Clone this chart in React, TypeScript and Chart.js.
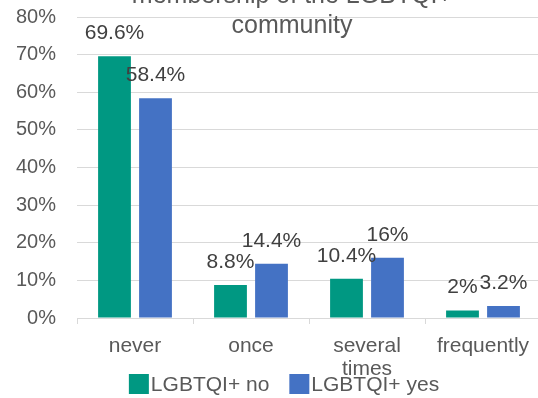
import React, { useEffect, useRef } from "react";
import { Chart, registerables } from "chart.js";

Chart.register(...registerables);

const categories: (string | string[])[] = ["never", "once", ["several", "times"], "frequently"];
const seriesNames = ["LGBTQI+ no", "LGBTQI+ yes"];
const valuesNo = [69.6, 8.8, 10.4, 2];
const valuesYes = [58.4, 14.4, 16, 3.2];
const valueLabelsNo = ["69.6%", "8.8%", "10.4%", "2%"];
const valueLabelsYes = ["58.4%", "14.4%", "16%", "3.2%"];
const titleLines = ["membership of the LGBTQI+", "community"];
const seriesColors = ["#009882", "#4472C4"];

const FONT = "'Liberation Sans', Arial, sans-serif";

const labelsPlugin = {
  id: "valueLabels",
  afterDatasetsDraw(chart: any) {
    const ctx = chart.ctx;
    const all = [valueLabelsNo, valueLabelsYes];
    ctx.save();
    ctx.font = `21px ${FONT}`;
    ctx.fillStyle = "#404040";
    ctx.textAlign = "center";
    ctx.textBaseline = "middle";
    all.forEach((labels, di) => {
      const meta = chart.getDatasetMeta(di);
      meta.data.forEach((el: any, i: number) => {
        ctx.fillText(labels[i], el.x, el.y - 23);
      });
    });
    ctx.restore();
  },
};

const titlePlugin = {
  id: "cutTitle",
  afterDraw(chart: any) {
    const ctx = chart.ctx;
    ctx.save();
    ctx.font = `25px ${FONT}`;
    ctx.fillStyle = "#595959";
    ctx.textAlign = "center";
    ctx.textBaseline = "alphabetic";
    titleLines.forEach((t, i) => ctx.fillText(t, 292, 3 + i * 30));
    ctx.restore();
  },
};

const legendPlugin = {
  id: "customLegend",
  afterDraw(chart: any) {
    const ctx = chart.ctx;
    ctx.save();
    ctx.font = `21px ${FONT}`;
    const box = 20;
    const gapText = 2;
    const gapItem = 20;
    const widths = seriesNames.map((n) => ctx.measureText(n).width);
    const total = widths.reduce((a, w) => a + box + gapText + w, 0) + gapItem * (seriesNames.length - 1);
    let x = 284 - total / 2;
    const cy = 384;
    seriesNames.forEach((n, i) => {
      ctx.fillStyle = seriesColors[i];
      ctx.fillRect(x, cy - box / 2, box, box);
      ctx.fillStyle = "#595959";
      ctx.textAlign = "left";
      ctx.textBaseline = "middle";
      ctx.fillText(n, x + box + gapText, cy + 1);
      x += box + gapText + widths[i] + gapItem;
    });
    ctx.restore();
  },
};

export default function App() {
  const ref = useRef<HTMLCanvasElement | null>(null);
  useEffect(() => {
    if (!ref.current) return;
    const chart = new Chart(ref.current, {
      type: "bar",
      data: {
        labels: categories,
        datasets: [
          { label: seriesNames[0], data: valuesNo, backgroundColor: seriesColors[0] },
          { label: seriesNames[1], data: valuesYes, backgroundColor: seriesColors[1] },
        ],
      },
      options: {
        responsive: false,
        animation: false,
        devicePixelRatio: 1,
        layout: { padding: { left: 0, right: 19, top: 17, bottom: 18 } },
        datasets: { bar: { barPercentage: 0.8, categoryPercentage: 0.707 } },
        plugins: {
          legend: { display: false },
          title: { display: false },
          tooltip: { enabled: false },
        },
        scales: {
          x: {
            grid: { drawOnChartArea: false, drawTicks: true, tickLength: 6, color: "#d9d9d9" },
            border: { color: "#d9d9d9", width: 1 },
            ticks: {
              color: "#595959",
              font: { family: FONT, size: 21, lineHeight: 1.1 },
              padding: 11,
              maxRotation: 0,
              autoSkip: false,
            },
            afterFit(scale: any) {
              scale.height = 62;
              scale.paddingLeft = 0;
              scale.paddingRight = 0;
              scale.paddingTop = 0;
              scale.paddingBottom = 0;
            },
          },
          y: {
            min: 0,
            max: 80,
            grid: { color: "#d9d9d9", drawTicks: false },
            border: { display: false },
            ticks: {
              stepSize: 10,
              color: "#595959",
              font: { family: FONT, size: 20 },
              padding: 21,
              callback: (v: any) => `${v}%`,
            },
            afterFit(scale: any) {
              scale.width = 77;
              scale.paddingTop = 0;
              scale.paddingBottom = 0;
              scale.paddingLeft = 0;
              scale.paddingRight = 0;
            },
          },
        },
      },
      plugins: [labelsPlugin, titlePlugin, legendPlugin],
    });
    return () => chart.destroy();
  }, []);
  return (
    <div style={{ position: "fixed", left: 0, top: 0, width: 538, height: 398, overflow: "hidden", background: "#fff" }}>
      <canvas ref={ref} width={560} height={398} style={{ display: "block" }} />
    </div>
  );
}
